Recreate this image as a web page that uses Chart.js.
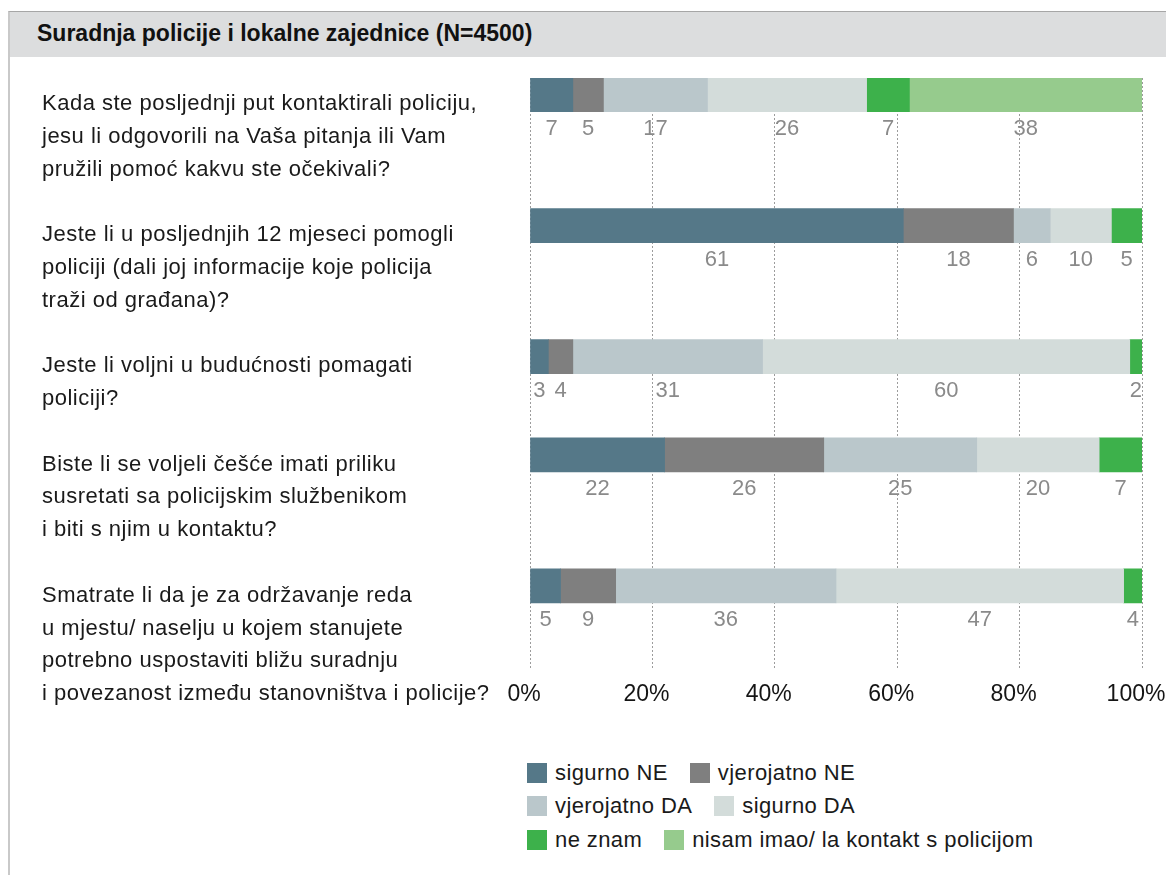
<!DOCTYPE html>
<html>
<head>
<meta charset="utf-8">
<script src="https://cdn.jsdelivr.net/npm/chart.js@4/dist/chart.umd.min.js"></script>
<style>
  html, body { margin:0; padding:0; background:#fff; }
  body { width:1166px; height:875px; position:relative; overflow:hidden; font-family:"Liberation Sans", Arial, sans-serif; }
  #frame { position:absolute; left:8px; top:11px; right:0; bottom:0; border-left:2px solid #c9c9c9; border-top:1px solid #a6a6a6; }
  #header { position:absolute; left:10px; top:12px; right:0; height:45px; background:#dcddde; }
  #title { position:absolute; left:37px; top:20px; font-weight:bold; font-size:23px; color:#111; white-space:nowrap; }
  #wrap { position:absolute; left:0; top:0; width:1166px; height:740px; }
  #legend { position:absolute; left:527px; top:756px; font-size:22px; letter-spacing:0.4px; color:#1a1a1a; }
  .row { display:flex; align-items:center; height:33.5px; }
  .item { display:flex; align-items:center; margin-right:22px; }
  .sw { width:20px; height:20px; margin-right:8px; }
</style>
</head>
<body>
<div id="frame"></div>
<div id="header"></div>
<div id="title">Suradnja policije i lokalne zajednice (N=4500)</div>
<div id="wrap"><canvas id="c" width="1166" height="740"></canvas></div>
<div id="legend"></div>
<script>
// ---- data ----
const questions = [
  ["Kada ste posljednji put kontaktirali policiju,", "jesu li odgovorili na Vaša pitanja ili Vam", "pružili pomoć kakvu ste očekivali?"],
  ["Jeste li u posljednjih 12 mjeseci pomogli", "policiji (dali joj informacije koje policija", "traži od građana)?"],
  ["Jeste li voljni u budućnosti pomagati", "policiji?"],
  ["Biste li se voljeli češće imati priliku", "susretati sa policijskim službenikom", "i biti s njim u kontaktu?"],
  ["Smatrate li da je za održavanje reda", "u mjestu/ naselju u kojem stanujete", "potrebno uspostaviti bližu suradnju", "i povezanost između stanovništva i policije?"]
];
const seriesNames = ["sigurno NE", "vjerojatno NE", "vjerojatno DA", "sigurno DA", "ne znam", "nisam imao/ la kontakt s policijom"];
const sigurnoNE    = [7, 61, 3, 22, 5];
const vjerojatnoNE = [5, 18, 4, 26, 9];
const vjerojatnoDA = [17, 6, 31, 25, 36];
const sigurnoDA    = [26, 10, 60, 20, 47];
const neZnam       = [7, 5, 2, 7, 4];
const nisamImao    = [38, null, null, null, null];
const xTicks = [0, 20, 40, 60, 80, 100];

// ---- styles ----
const colors = ["#557888", "#7f7f7f", "#bac7cb", "#d3dcda", "#3db14b", "#96cb8d"];
const allSeries = [sigurnoNE, vjerojatnoNE, vjerojatnoDA, sigurnoDA, neZnam, nisamImao];

// row positions derived from the number of text lines of each question (one unit = one text line)
const rowStart = [];
let acc = 0;
questions.forEach(q => { rowStart.push(acc); acc += q.length + 1; });
const BAR_SHIFT = -0.3;

const datasets = allSeries.map((arr, si) => ({
  label: seriesNames[si],
  backgroundColor: colors[si],
  borderWidth: 0,
  barThickness: 34,
  data: arr.map((v, i) => v == null ? null : { x: v, y: rowStart[i] + BAR_SHIFT }).filter(d => d)
}));

const questionLabels = {
  id: 'questionLabels',
  afterDraw(chart) {
    const ctx = chart.ctx, y = chart.scales.y;
    ctx.save();
    ctx.font = '22px "Liberation Sans", Arial, sans-serif';
    if ('letterSpacing' in ctx) ctx.letterSpacing = '0.5px';
    ctx.fillStyle = '#1a1a1a';
    ctx.textAlign = 'left';
    ctx.textBaseline = 'middle';
    questions.forEach((q, i) => {
      q.forEach((line, j) => ctx.fillText(line, 42, y.getPixelForValue(rowStart[i] + j)));
    });
    ctx.restore();
  }
};

const valueLabels = {
  id: 'valueLabels',
  afterDatasetsDraw(chart) {
    const ctx = chart.ctx, a = chart.chartArea;
    ctx.save();
    ctx.font = '22px "Liberation Sans", Arial, sans-serif';
    ctx.fillStyle = '#8a8a8a';
    ctx.textAlign = 'center';
    ctx.textBaseline = 'middle';
    chart.data.datasets.forEach((ds, di) => {
      const meta = chart.getDatasetMeta(di);
      meta.data.forEach((el, k) => {
        const p = el.getProps(['x', 'base', 'y', 'height'], true);
        const l = Math.max(Math.min(p.x, p.base), a.left);
        const r = Math.min(Math.max(p.x, p.base), a.right);
        ctx.fillText(String(ds.data[k].x), (l + r) / 2, p.y + 34);
      });
    });
    ctx.restore();
  }
};

new Chart(document.getElementById('c'), {
  type: 'bar',
  data: { datasets },
  options: {
    indexAxis: 'y',
    responsive: false,
    animation: false,
    events: [],
    layout: { padding: { left: 530, right: 24, top: 78, bottom: 20 } },
    plugins: { legend: { display: false }, tooltip: { enabled: false } },
    scales: {
      x: {
        type: 'linear', stacked: true, min: 0, max: 100, z: 1,
        afterBuildTicks: s => { s.ticks = xTicks.map(v => ({ value: v })); },
        afterFit: s => { s.paddingLeft = 0; s.paddingRight = 0; },
        ticks: { callback: v => v + '%', padding: 12, color: '#151515', labelOffset: -6,
                 font: { family: '"Liberation Sans", Arial, sans-serif', size: 23 } },
        grid: { color: '#9c9c9c', lineWidth: 1, drawTicks: false },
        border: { display: false, dash: [2, 2] }
      },
      y: {
        type: 'linear', stacked: true, reverse: true, display: false, offset: false,
        min: -0.806, max: 17.22
      }
    }
  },
  plugins: [valueLabels, questionLabels]
});

// legend (HTML), two entries per row
const lg = document.getElementById('legend');
for (let r = 0; r < seriesNames.length; r += 2) {
  const row = document.createElement('div'); row.className = 'row';
  [r, r + 1].forEach(i => {
    const it = document.createElement('div'); it.className = 'item';
    const sw = document.createElement('div'); sw.className = 'sw'; sw.style.background = colors[i];
    const tx = document.createElement('span'); tx.textContent = seriesNames[i];
    it.appendChild(sw); it.appendChild(tx); row.appendChild(it);
  });
  lg.appendChild(row);
}
</script>
</body>
</html>
